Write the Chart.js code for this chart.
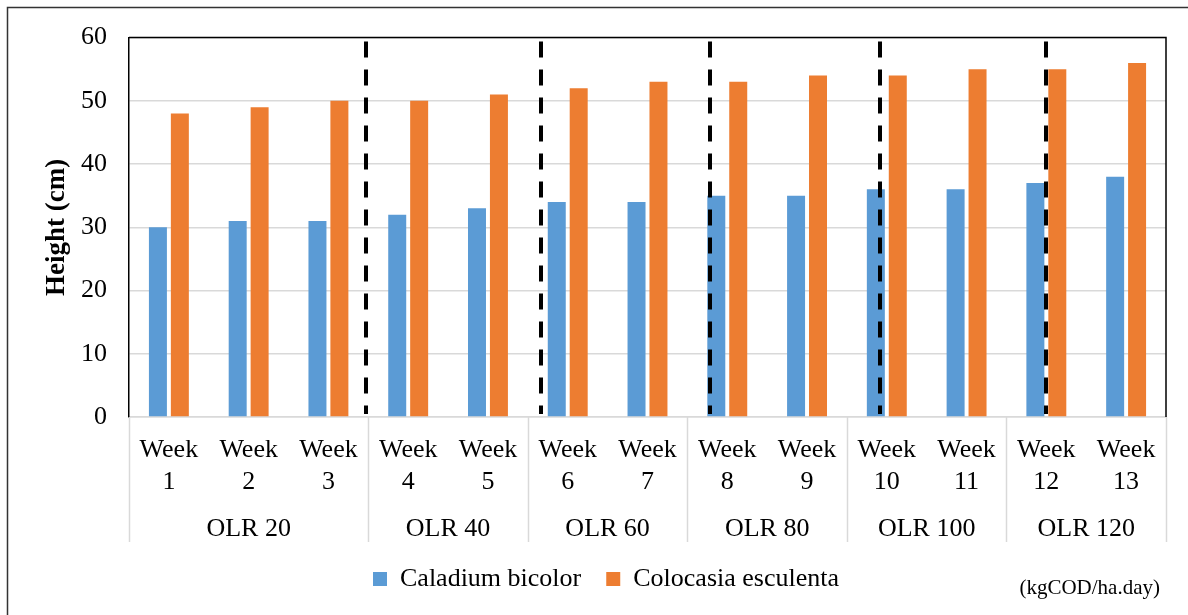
<!DOCTYPE html>
<html>
<head>
<meta charset="utf-8">
<script src="https://cdn.jsdelivr.net/npm/chart.js@4.4.1/dist/chart.umd.min.js"></script>
<style>
  html, body { margin: 0; padding: 0; background: #fff; }
  canvas { display: block; }
</style>
</head>
<body>
<canvas id="c" width="1188" height="615"></canvas>
<script>
// ---- data ----
const weekLabels = [["Week","1"],["Week","2"],["Week","3"],["Week","4"],["Week","5"],["Week","6"],["Week","7"],["Week","8"],["Week","9"],["Week","10"],["Week","11"],["Week","12"],["Week","13"]];
const groupLabels = ["OLR 20","OLR 40","OLR 60","OLR 80","OLR 100","OLR 120"];
const groupSizes = [3, 2, 2, 2, 2, 2];
const caladium = [30, 31, 31, 32, 33, 34, 34, 35, 35, 36, 36, 37, 38];
const colocasia = [48, 49, 50, 50, 51, 52, 53, 53, 54, 54, 55, 55, 56];
const seriesNames = ["Caladium bicolor", "Colocasia esculenta"];
const unitNote = "(kgCOD/ha.day)";
const yTitle = "Height (cm)";

const FONT = '"Liberation Serif", "Times New Roman", serif';
const GRID = '#d9d9d9';

const decorPlugin = {
  id: 'decor',
  afterLayout(chart) {
    const lg = chart.legend;
    if (lg) { lg.left += 19; lg.right += 19; }
  },
  beforeDraw(chart) {
    const ctx = chart.ctx;
    ctx.save();
    ctx.strokeStyle = '#333';
    ctx.lineWidth = 1.5;
    ctx.beginPath();
    ctx.moveTo(7.5, 615); ctx.lineTo(7.5, 7.5); ctx.lineTo(1188, 7.5);
    ctx.stroke();
    ctx.restore();
  },
  afterDatasetsDraw(chart) {
    const ctx = chart.ctx, x = chart.scales.x, a = chart.chartArea;
    const dividers = [2.47, 4.67, 6.78, 8.91, 11.0];
    ctx.save();
    ctx.strokeStyle = '#000';
    ctx.lineWidth = 4;
    ctx.setLineDash([16, 12]);
    dividers.forEach(v => {
      const px = Math.round(x.getPixelForValue(v));
      ctx.beginPath();
      ctx.moveTo(px, a.top + 4);
      ctx.lineTo(px, a.bottom - 3);
      ctx.stroke();
    });
    ctx.restore();
  },
  afterDraw(chart) {
    const ctx = chart.ctx, x = chart.scales.x, a = chart.chartArea;
    ctx.save();
    ctx.strokeStyle = '#000';
    ctx.lineWidth = 1.5;
    ctx.beginPath();
    ctx.moveTo(a.left, a.top); ctx.lineTo(a.right, a.top); ctx.lineTo(a.right, a.bottom);
    ctx.stroke();
    ctx.strokeStyle = GRID;
    ctx.lineWidth = 1.5;
    ctx.fillStyle = '#000';
    ctx.font = '26px ' + FONT;
    ctx.textAlign = 'center';
    ctx.textBaseline = 'middle';
    let start = 0;
    const sepBottom = a.bottom + 125;
    const drawSep = (v) => {
      const px = Math.round(x.getPixelForValue(v)) + 0.5;
      ctx.beginPath(); ctx.moveTo(px, a.bottom); ctx.lineTo(px, sepBottom); ctx.stroke();
    };
    drawSep(-0.5);
    groupSizes.forEach((n, i) => {
      const end = start + n;
      drawSep(end - 0.5);
      const cx = (x.getPixelForValue(start - 0.5) + x.getPixelForValue(end - 0.5)) / 2;
      ctx.fillText(groupLabels[i], cx, a.bottom + 112);
      start = end;
    });
    ctx.font = '21px ' + FONT;
    ctx.textAlign = 'right';
    ctx.fillText(unitNote, 1160, 588);
    ctx.restore();
  }
};

new Chart(document.getElementById('c'), {
  type: 'bar',
  data: {
    labels: weekLabels,
    datasets: [
      { label: seriesNames[0], data: caladium, backgroundColor: '#5B9BD5', categoryPercentage: 0.55, barPercentage: 0.82 },
      { label: seriesNames[1], data: colocasia, backgroundColor: '#ED7D31', categoryPercentage: 0.55, barPercentage: 0.82 }
    ]
  },
  options: {
    responsive: false,
    animation: false,
    layout: { padding: { left: 8, right: 22, top: 36, bottom: 13 } },
    plugins: {
      tooltip: { enabled: false },
      legend: {
        position: 'bottom',
        labels: {
          boxWidth: 14, boxHeight: 14, padding: 25,
          color: '#000',
          font: { family: FONT, size: 26 }
        }
      }
    },
    scales: {
      x: {
        grid: { display: false, drawTicks: false },
        border: { color: GRID, width: 1.5 },
        ticks: {
          color: '#000', font: { family: FONT, size: 26 },
          padding: 18, maxRotation: 0, autoSkip: false
        },
        afterFit(s) { s.height = 124; }
      },
      y: {
        min: 0, max: 60,
        grid: { color: GRID, lineWidth: 1.5, drawTicks: false },
        border: { color: '#000', width: 1.5 },
        ticks: { stepSize: 10, color: '#000', font: { family: FONT, size: 26 }, padding: 22 },
        title: {
          display: true, text: yTitle, color: '#000',
          font: { family: FONT, size: 27, weight: 'bold' },
          padding: { top: 33, bottom: 0 }
        },
        afterFit(s) { s.width = 121; }
      }
    }
  },
  plugins: [decorPlugin]
});
</script>
</body>
</html>
